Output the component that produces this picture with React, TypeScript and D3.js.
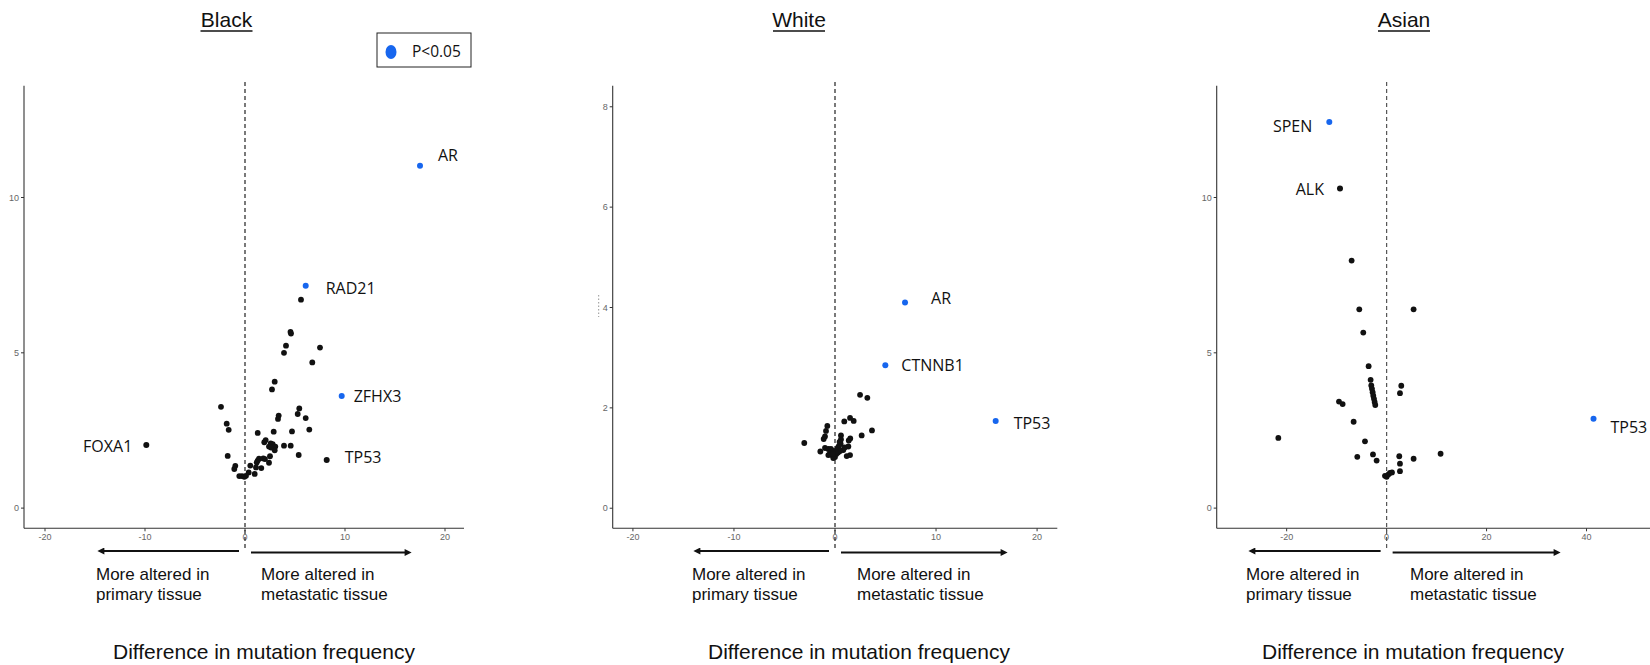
import React from 'react';
import * as d3 from 'd3';

// points as [difference in mutation frequency, -log10 p]
const blackPoints: [number, number][] = [
  [5.6, 6.71], [4.55, 5.67], [4.6, 5.62], [4.1, 5.23], [3.9, 5.0], [7.5, 5.17], [6.73, 4.69],
  [2.97, 4.07], [2.7, 3.82], [-2.4, 3.26], [5.43, 3.21], [5.27, 3.03], [6.07, 2.9], [3.37, 2.98],
  [3.3, 2.87], [-1.83, 2.72], [-1.63, 2.52], [6.43, 2.53], [2.87, 2.46], [4.7, 2.47], [1.27, 2.42],
  [2.07, 2.19], [1.93, 2.12], [3.9, 2.01], [4.57, 2.01], [2.57, 2.08], [2.77, 2.06], [2.4, 1.98],
  [3.03, 1.98], [2.97, 1.86], [2.6, 1.95], [-1.73, 1.68], [5.37, 1.71], [2.5, 1.67], [1.4, 1.59],
  [1.27, 1.53], [1.17, 1.47], [1.83, 1.6], [2.0, 1.58], [2.4, 1.46], [1.1, 1.31], [1.63, 1.29],
  [0.53, 1.37], [-0.97, 1.36], [-1.07, 1.26], [0.37, 1.15], [0.97, 1.1], [-0.57, 1.03],
  [-0.3, 1.03], [-0.07, 1.01], [0.1, 1.04],
];
const blackGenes = [
  { gene: 'AR', x: 17.5, y: 11.02, sig: true },
  { gene: 'RAD21', x: 6.07, y: 7.16, sig: true },
  { gene: 'ZFHX3', x: 9.67, y: 3.61, sig: true },
  { gene: 'FOXA1', x: -9.87, y: 2.03, sig: false },
  { gene: 'TP53', x: 8.17, y: 1.55, sig: false },
];

const whitePoints: [number, number][] = [
  [2.48, 2.26], [3.2, 2.2], [0.92, 1.73], [1.49, 1.8], [1.85, 1.74], [3.66, 1.55], [2.64, 1.45],
  [-0.76, 1.64], [-0.89, 1.54], [-3.04, 1.3], [-0.99, 1.43], [-1.12, 1.38], [0.59, 1.45],
  [0.59, 1.37], [1.51, 1.39], [1.36, 1.35], [0.56, 1.28], [-1.45, 1.13], [-0.99, 1.2],
  [-0.66, 1.18], [-0.4, 1.18], [-0.17, 1.14], [1.32, 1.23], [0.96, 1.21], [0.82, 1.16],
  [0.36, 1.23], [0.27, 1.2], [0.17, 1.15], [-0.5, 1.1], [-0.33, 1.06], [-0.1, 1.04], [0, 1.02],
  [-0.17, 1.0], [0.13, 1.08], [0.3, 1.11], [0.5, 1.14], [1.16, 1.04], [1.49, 1.06],
  [-0.66, 1.06], [0.45, 1.32], [0.1, 1.12], [-0.2, 1.08],
];
const whiteGenes = [
  { gene: 'AR', x: 6.93, y: 4.1, sig: true },
  { gene: 'CTNNB1', x: 4.98, y: 2.85, sig: true },
  { gene: 'TP53', x: 15.9, y: 1.74, sig: true },
];

const asianPoints: [number, number][] = [
  [-7.0, 7.97], [-5.47, 6.4], [5.4, 6.4], [-4.67, 5.65], [-3.6, 4.57], [-3.2, 4.13],
  [-3.07, 3.95], [-2.93, 3.84], [-2.8, 3.73], [-2.67, 3.62], [-2.53, 3.52], [-2.4, 3.42],
  [-2.27, 3.32], [2.93, 3.94], [2.67, 3.7], [-9.53, 3.43], [-8.8, 3.35], [-6.6, 2.78],
  [-21.67, 2.26], [-4.33, 2.15], [-5.87, 1.65], [-2.73, 1.73], [-2.0, 1.53], [2.53, 1.67],
  [2.67, 1.43], [2.67, 1.19], [5.4, 1.59], [10.8, 1.75], [-0.33, 1.04], [0, 1.01], [0.33, 1.08],
  [0.67, 1.13], [1.07, 1.15],
];
const asianGenes = [
  { gene: 'SPEN', x: -11.47, y: 12.43, sig: true },
  { gene: 'ALK', x: -9.33, y: 10.29, sig: false },
  { gene: 'TP53', x: 41.4, y: 2.88, sig: true },
];

const ticksBlackX = [-20, -10, 0, 10, 20];
const ticksBlackY = [0, 5, 10];
const ticksWhiteX = [-20, -10, 0, 10, 20];
const ticksWhiteY = [0, 2, 4, 6, 8];
const ticksAsianX = [-20, 0, 20, 40];
const ticksAsianY = [0, 5, 10];

const BLUE = '#1766ee';
const FONT = '"Liberation Sans", Arial, Helvetica, sans-serif';
const LABEL_FONT = '"Open Sans", "Noto Sans", sans-serif';
const Y_TOP = 85.7;
const Y_BOT = 528.3;

// label placement per gene: dx, dy, anchor
type Place = { dx: number; dy: number; anchor: 'start' | 'end' };

const panels = [
  {
    title: 'Black', titleX: 226.5, x0: 24, x1: 464, xDomain: [-22.1, 21.9], yDomain: [-0.65, 13.6],
    xTicks: ticksBlackX, yTicks: ticksBlackY, points: blackPoints, genes: blackGenes,
    arrowL: 97, arrowR: 412, textL: 96, textR: 261, diffX: 113, dash: '#222',
    place: {
      AR: { dx: 18, dy: -10, anchor: 'start' }, RAD21: { dx: 20, dy: 3, anchor: 'start' },
      ZFHX3: { dx: 12, dy: 0, anchor: 'start' }, FOXA1: { dx: -14, dy: 1, anchor: 'end' },
      TP53: { dx: 18, dy: -3, anchor: 'start' },
    } as Record<string, Place>,
  },
  {
    title: 'White', titleX: 799, x0: 612.7, x1: 1057.3, xDomain: [-22, 22], yDomain: [-0.4, 8.42],
    xTicks: ticksWhiteX, yTicks: ticksWhiteY, points: whitePoints, genes: whiteGenes,
    arrowL: 693, arrowR: 1008, textL: 692, textR: 857, diffX: 708, dash: '#222',
    place: {
      AR: { dx: 26, dy: -4, anchor: 'start' }, CTNNB1: { dx: 16, dy: 0, anchor: 'start' },
      TP53: { dx: 18, dy: 2, anchor: 'start' },
    } as Record<string, Place>,
  },
  {
    title: 'Asian', titleX: 1404, x0: 1216.7, x1: 1650, xDomain: [-34, 52.7], yDomain: [-0.65, 13.6],
    xTicks: ticksAsianX, yTicks: ticksAsianY, points: asianPoints, genes: asianGenes,
    arrowL: 1248, arrowR: 1561, textL: 1246, textR: 1410, diffX: 1262, dash: '#555',
    place: {
      SPEN: { dx: -17, dy: 4, anchor: 'end' }, ALK: { dx: -16, dy: 1, anchor: 'end' },
      TP53: { dx: 17, dy: 9, anchor: 'start' },
    } as Record<string, Place>,
  },
];

const Panel = ({ p }: { p: (typeof panels)[number] }) => {
  const x = d3.scaleLinear().domain(p.xDomain).range([p.x0, p.x1]);
  const y = d3.scaleLinear().domain(p.yDomain).range([Y_BOT, Y_TOP]);
  const zx = x(0);
  return (
    <g>
      <text x={p.titleX} y={27} textAnchor="middle" fontFamily={FONT} fontSize={21} fill="#111">{p.title}</text>
      <line x1={p.titleX - 26} x2={p.titleX + 26} y1={31} y2={31} stroke="#111" strokeWidth={1.6} />

      {/* axes */}
      <line x1={p.x0} x2={p.x0} y1={Y_TOP} y2={Y_BOT} stroke="#333" strokeWidth={1.1} />
      <line x1={p.x0} x2={p.x1} y1={Y_BOT} y2={Y_BOT} stroke="#333" strokeWidth={1.1} />
      {p.yTicks.map((t) => (
        <g key={`y${t}`}>
          <line x1={p.x0 - 3} x2={p.x0} y1={y(t)} y2={y(t)} stroke="#333" strokeWidth={1} />
          <text x={p.x0 - 5} y={y(t)} dy="0.35em" textAnchor="end" fontFamily={FONT} fontSize={9} fill="#666">{t}</text>
        </g>
      ))}
      {p.xTicks.map((t) => (
        <g key={`x${t}`}>
          <line x1={x(t)} x2={x(t)} y1={Y_BOT} y2={Y_BOT + 3} stroke="#333" strokeWidth={1} />
          <text x={x(t)} y={Y_BOT + 12} textAnchor="middle" fontFamily={FONT} fontSize={9} fill="#666">{t}</text>
        </g>
      ))}

      <line x1={zx} x2={zx} y1={82} y2={548} stroke={p.dash} strokeWidth={1.2} strokeDasharray="4,3" />

      {p.points.map(([a, b], i) => (
        <circle key={i} cx={x(a)} cy={y(b)} r={2.9} fill="#111" />
      ))}
      {p.genes.map((g) => (
        <circle key={g.gene} cx={x(g.x)} cy={y(g.y)} r={3} fill={g.sig ? BLUE : '#111'} />
      ))}
      {p.genes.map((g) => {
        const pl = p.place[g.gene];
        return (
          <text key={`l${g.gene}`} x={x(g.x) + pl.dx} y={y(g.y) + pl.dy} dy="0.35em" textAnchor={pl.anchor}
            fontFamily={LABEL_FONT} fontSize={16} fill="#111">{g.gene}</text>
        );
      })}

      {/* direction arrows */}
      <line x1={zx - 6} x2={p.arrowL + 6} y1={551} y2={551} stroke="#111" strokeWidth={2} markerEnd="url(#arrow)" />
      <line x1={zx + 6} x2={p.arrowR - 6} y1={552.5} y2={552.5} stroke="#111" strokeWidth={2} markerEnd="url(#arrow)" />
      <text x={p.textL} y={580} fontFamily={FONT} fontSize={17} fill="#111">More altered in</text>
      <text x={p.textL} y={600} fontFamily={FONT} fontSize={17} fill="#111">primary tissue</text>
      <text x={p.textR} y={580} fontFamily={FONT} fontSize={17} fill="#111">More altered in</text>
      <text x={p.textR} y={600} fontFamily={FONT} fontSize={17} fill="#111">metastatic tissue</text>
      <text x={p.diffX} y={659} fontFamily={FONT} fontSize={21} fill="#111">Difference in mutation frequency</text>
    </g>
  );
};

const App = () => {
  return (
    <svg width={1650} height={665} style={{ position: 'absolute', left: 0, top: 0, background: '#fff' }}>
      <defs>
        <marker id="arrow" viewBox="0 0 10 10" refX={2} refY={5} markerWidth={8} markerHeight={7}
          markerUnits="userSpaceOnUse" orient="auto">
          <path d="M0,0 L10,5 L0,10 z" fill="#111" />
        </marker>
      </defs>
      <rect width={1650} height={665} fill="#fff" />
      {panels.map((p) => <Panel key={p.title} p={p} />)}

      {/* legend */}
      <rect x={377} y={33} width={94} height={34} fill="none" stroke="#222" strokeWidth={1} />
      <ellipse cx={391} cy={52} rx={5.5} ry={7} fill={BLUE} />
      <text x={412} y={52} dy="0.35em" fontFamily={LABEL_FONT} fontSize={15.5} fill="#111">P&lt;0.05</text>

      {/* stray dotted mark beside the White y axis */}
      <line x1={598.7} x2={598.7} y1={295} y2={317} stroke="#777" strokeWidth={0.8} strokeDasharray="1.5,2" />
    </svg>
  );
};

export default App;
